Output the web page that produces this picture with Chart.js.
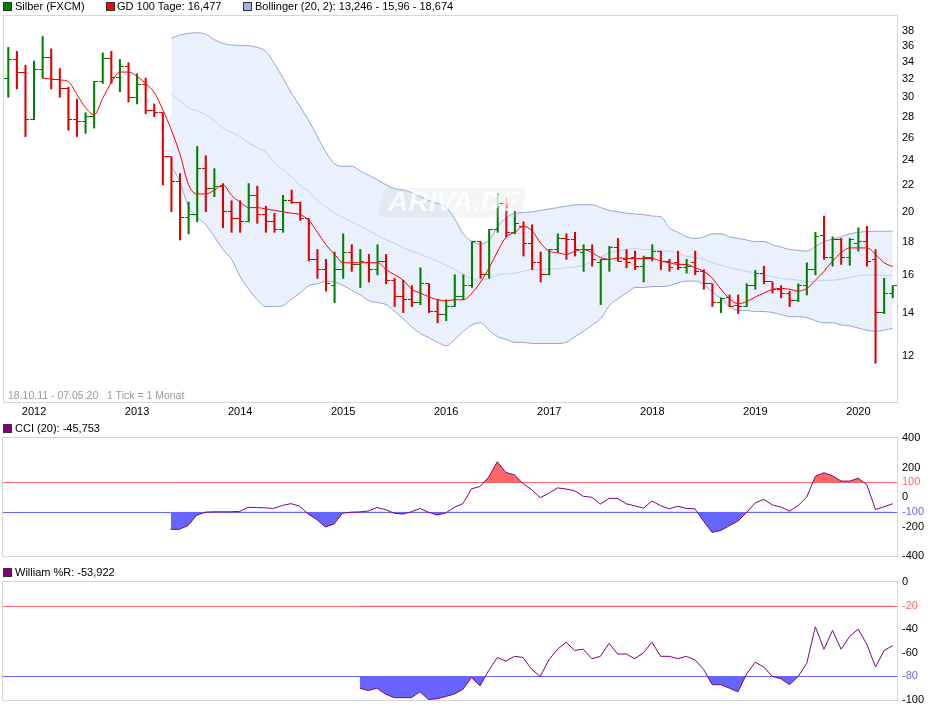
<!DOCTYPE html>
<html lang="de"><head><meta charset="utf-8"><title>Silber (FXCM)</title>
<script src="https://cdn.jsdelivr.net/npm/chart.js@4.4.1/dist/chart.umd.min.js"></script>
<style>
html,body{margin:0;padding:0;background:#fff;}
body{width:940px;height:710px;position:relative;overflow:hidden;font-family:"Liberation Sans",Arial,Helvetica,sans-serif;}
.cv{position:absolute;left:0;}
.sq{position:absolute;width:9px;height:9px;box-sizing:border-box;border:1px solid #333;}
.tx{position:absolute;font-size:11px;line-height:13px;color:#000;white-space:nowrap;}
</style></head><body>
<canvas id="mainChart" class="cv" width="940" height="416" style="top:4px;width:940px;height:416px"></canvas>
<canvas id="cciChart" class="cv" width="940" height="142" style="top:426px;width:940px;height:142px"></canvas>
<canvas id="wrChart" class="cv" width="940" height="142" style="top:570px;width:940px;height:142px"></canvas>

<div class="sq" style="left:3px;top:2px;background:#008000"></div>
<div class="tx" style="left:15px;top:0px">Silber (FXCM)</div>
<div class="sq" style="left:106px;top:2px;background:#ff0000"></div>
<div class="tx" style="left:117px;top:0px">GD 100 Tage: 16,477</div>
<div class="sq" style="left:243px;top:2px;background:#9fb3e0"></div>
<div class="tx" style="left:255px;top:0px">Bollinger (20, 2): 13,246 - 15,96 - 18,674</div>

<div style="position:absolute;left:381px;top:188px;width:143px;height:29px;background:rgba(200,204,212,0.2);border-radius:5px;transform:skewX(-14deg);"></div>
<div style="position:absolute;left:388px;top:186px;font:italic bold 28px 'Liberation Sans',Arial,sans-serif;color:rgba(255,255,255,0.75);">ARIVA.DE</div>

<div class="tx" style="left:8px;top:389px;font-size:10.5px;color:#9a9a9a">18.10.11 - 07.05.20&nbsp;&nbsp; 1 Tick = 1 Monat</div>

<div class="sq" style="left:3px;top:424px;background:#800080"></div>
<div class="tx" style="left:15px;top:422px">CCI (20): -45,753</div>
<div class="sq" style="left:3px;top:568px;background:#800080"></div>
<div class="tx" style="left:15px;top:566px">William %R: -53,922</div>

<script>
// ---------- categories (monthly bars, Oct 2011 - May 2020) ----------
const months = [
 '10.11','11.11','12.11',
 '01.12','02.12','03.12','04.12','05.12','06.12','07.12','08.12','09.12','10.12','11.12','12.12',
 '01.13','02.13','03.13','04.13','05.13','06.13','07.13','08.13','09.13','10.13','11.13','12.13',
 '01.14','02.14','03.14','04.14','05.14','06.14','07.14','08.14','09.14','10.14','11.14','12.14',
 '01.15','02.15','03.15','04.15','05.15','06.15','07.15','08.15','09.15','10.15','11.15','12.15',
 '01.16','02.16','03.16','04.16','05.16','06.16','07.16','08.16','09.16','10.16','11.16','12.16',
 '01.17','02.17','03.17','04.17','05.17','06.17','07.17','08.17','09.17','10.17','11.17','12.17',
 '01.18','02.18','03.18','04.18','05.18','06.18','07.18','08.18','09.18','10.18','11.18','12.18',
 '01.19','02.19','03.19','04.19','05.19','06.19','07.19','08.19','09.19','10.19','11.19','12.19',
 '01.20','02.20','03.20','04.20','05.20'
];

// ---------- OHLC (Silber, FXCM) ----------
const opens = [
 32.1,34.25,32.8,27.7,33.1,34.5,32.0,30.9,27.7,27.5,
 28.0,31.7,34.4,32.2,33.5,30.0,31.4,28.6,28.4,24.3,
 22.3,19.6,19.8,23.3,21.7,21.9,20.0,19.5,19.3,21.2,
 19.8,19.3,18.8,20.8,20.7,19.5,16.9,16.3,15.4,16.3,
 17.3,16.6,16.7,16.3,16.8,15.7,14.8,14.65,14.5,15.5,
 14.05,13.9,14.3,14.8,15.4,18.0,16.0,18.8,20.6,18.6,
 19.0,17.9,16.7,16.0,17.5,18.2,18.1,17.3,17.5,16.7,
 16.9,17.6,16.9,17.0,16.5,17.0,17.4,16.8,16.7,16.4,
 16.7,16.2,15.5,14.5,14.75,14.35,14.3,15.4,16.1,15.6,
 15.2,15.0,14.6,15.4,16.3,18.4,17.0,18.1,17.0,17.9,
 18.0,16.9,14.0,15.0
];
const highs = [
 35.8,35.3,33.6,34.1,37.2,35.6,33.2,31.1,29.8,28.4,
 31.7,35.1,35.3,34.3,33.9,32.6,32.1,29.3,28.4,24.3,
 22.9,20.7,25.2,24.4,23.3,22.1,20.8,20.8,22.1,21.9,
 20.4,19.9,21.2,21.6,20.7,19.5,17.5,16.9,17.35,18.5,
 17.8,17.5,17.2,17.8,17.2,15.8,15.7,15.4,16.4,15.5,
 14.65,14.65,16.0,16.0,18.0,18.0,18.8,21.3,21.0,20.1,
 19.3,19.1,17.35,17.5,18.5,18.5,18.6,17.8,17.8,16.9,
 17.7,18.2,17.5,17.4,17.1,17.8,17.4,16.9,17.4,16.9,
 17.4,16.3,15.5,14.75,14.9,14.9,15.5,16.25,16.5,15.6,
 15.4,15.1,15.5,16.7,18.6,19.7,18.3,18.2,18.2,18.9,
 19.0,17.5,15.8,15.4
];
const lows = [
 30.0,30.9,26.1,27.7,32.1,30.9,30.0,26.7,26.1,26.4,
 26.9,31.5,31.5,30.6,29.5,29.3,28.3,28.0,22.0,20.0,
 18.1,18.5,19.3,20.0,21.1,18.9,18.6,18.6,19.3,19.2,
 18.6,18.6,18.6,20.6,19.4,16.8,15.8,15.1,14.5,15.8,
 16.2,15.3,15.6,16.0,15.5,14.3,14.0,14.3,14.4,14.0,
 13.5,13.6,14.3,14.65,15.3,15.8,15.8,18.6,18.3,18.5,
 17.1,16.3,15.6,16.0,17.35,16.9,17.1,16.2,16.5,14.4,
 16.2,16.8,16.4,16.3,15.6,16.8,16.3,16.2,16.3,16.1,
 16.0,15.2,14.3,14.0,14.3,13.95,14.3,15.2,15.5,15.0,
 14.75,14.3,14.55,14.9,16.0,16.9,16.5,16.6,16.55,17.4,
 16.5,11.7,13.95,14.75
];
const closes = [
 34.25,32.8,27.7,33.1,34.5,32.0,30.9,27.7,27.5,28.0,
 31.7,34.4,32.2,33.5,30.0,31.4,28.6,28.4,24.3,22.3,
 19.6,19.8,23.3,21.7,21.9,20.0,19.5,19.3,21.2,19.8,
 19.3,18.8,20.8,20.7,19.5,16.9,16.3,15.5,16.3,17.3,
 16.6,16.8,16.3,16.8,15.7,14.8,14.65,14.5,15.5,14.05,
 13.9,14.3,14.8,15.4,18.0,16.0,18.8,20.6,18.6,19.2,
 17.9,16.7,16.0,17.5,18.2,18.1,17.5,17.5,16.9,16.9,
 17.6,16.8,16.7,16.5,17.0,17.4,16.8,16.4,16.4,16.5,
 16.2,15.5,14.5,14.7,14.3,14.3,15.4,16.1,15.6,15.2,
 15.0,14.6,15.4,16.3,18.3,17.0,18.1,17.0,18.1,18.0,
 16.8,14.0,15.0,15.4
];

// ---------- GD 100 Tage ----------
const gd100 = [
 null,null,null,null,32.1,32.0,31.9,31.7,30.3,28.9,
 28.2,29.9,31.6,32.8,32.8,32.3,31.5,30.5,28.7,26.7,
 24.5,22.0,21.3,21.3,21.6,22.0,21.2,20.7,20.3,20.3,
 20.2,20.1,20.0,19.9,19.8,19.4,18.6,17.8,17.2,16.7,
 16.7,16.7,16.7,16.7,16.3,16.0,15.7,15.2,15.0,14.8,
 14.65,14.6,14.65,14.65,15.0,15.6,16.4,17.4,18.3,18.6,
 19.0,18.7,17.9,17.4,17.3,17.2,17.4,17.5,17.3,17.0,
 16.9,17.0,16.95,16.95,16.95,16.95,16.8,16.7,16.6,16.6,
 16.4,16.2,15.8,15.2,14.7,14.45,14.55,14.8,15.0,15.2,
 15.25,15.2,15.1,15.25,15.7,16.2,16.8,17.3,17.6,17.6,
 17.6,17.2,16.7,16.477
];

// ---------- Bollinger (20, 2) ----------
const bbUpper = [
 null,null,null,null,null,null,null,null,null,null,
 null,null,null,null,null,null,null,null,null,37.0,
 37.4,37.6,37.7,37.5,36.8,36.3,36.1,36.05,36.0,35.8,
 35.3,33.8,32.1,30.4,29.0,27.6,26.1,24.7,23.7,23.5,
 23.5,23.1,22.75,22.4,22.0,21.7,21.6,21.4,21.1,20.8,
 20.6,20.3,19.5,18.5,18.0,17.85,18.1,19.0,19.6,19.9,
 19.95,20.0,20.1,20.2,20.3,20.4,20.5,20.5,20.5,20.3,
 20.1,20.0,19.9,19.85,19.8,19.7,19.65,18.9,18.6,18.3,
 18.2,18.3,18.5,18.5,18.3,18.2,18.1,18.0,18.0,17.8,
 17.65,17.5,17.45,17.4,17.7,18.0,18.15,18.3,18.5,18.6,
 18.65,18.67,18.67,18.674
];
const bbMid = [
 null,null,null,null,null,null,null,null,null,null,
 null,null,null,null,null,null,null,null,null,30.4,
 29.6,28.9,28.6,28.2,27.6,26.9,26.5,26.1,25.5,25.1,
 24.7,23.8,23.2,22.6,21.9,21.5,20.8,20.35,19.9,19.6,
 19.3,19.0,18.7,18.4,18.1,17.9,17.6,17.4,17.2,17.0,
 16.8,16.55,16.3,16.0,15.8,15.7,15.8,16.0,16.05,16.1,
 16.2,16.3,16.3,16.35,16.35,16.4,16.45,16.55,16.75,17.05,
 17.3,17.4,17.5,17.55,17.5,17.5,17.4,17.4,17.25,17.1,
 17.0,16.9,16.7,16.55,16.4,16.3,16.2,16.1,16.0,15.9,
 15.8,15.75,15.7,15.6,15.65,15.7,15.7,15.75,15.85,15.95,
 16.0,16.0,15.97,15.96
];
const bbLower = [
 null,null,null,null,null,null,null,null,null,null,
 null,null,null,null,null,null,null,null,null,23.5,
 22.2,20.35,19.6,19.1,18.3,17.5,16.9,15.9,15.2,14.65,
 14.3,14.3,14.35,14.7,15.0,15.4,15.5,15.65,15.6,15.4,
 15.15,14.9,14.6,14.5,14.4,14.05,13.7,13.3,13.0,12.8,
 12.6,12.45,12.73,13.1,13.4,13.5,13.15,12.85,12.73,12.6,
 12.6,12.55,12.55,12.55,12.55,12.6,12.85,13.1,13.4,13.7,
 14.35,14.7,15.0,15.3,15.3,15.35,15.35,15.4,15.55,15.65,
 15.65,15.45,15.05,14.7,14.3,14.1,14.1,14.05,14.05,14.0,
 13.9,13.8,13.8,13.75,13.6,13.5,13.5,13.4,13.35,13.25,
 13.15,13.1,13.15,13.246
];

// ---------- CCI (20) ----------
const cci = [
 null,null,null,null,null,null,null,null,null,null,
 null,null,null,null,null,null,null,null,null,-219,
 -219,-195,-125,-103,-100,-100,-100,-98,-70,-71,
 -74,-77,-57,-45,-62,-115,-153,-203,-183,-110,
 -103,-101,-95,-71,-85,-110,-116,-100,-78,-103,
 -122,-108,-70,-45,55,72,135,239,166,150,
 90,50,-4,25,62,54,42,5,-2,-48,
 -9,-10,-46,-60,-76,-27,-59,-80,-63,-78,
 -80,-165,-240,-227,-195,-163,-105,-40,-16,-54,
 -68,-96,-58,0,140,165,143,108,108,127,
 82,-85,-66,-45.753
];

// ---------- William %R ----------
const williamsR = [
 null,null,null,null,null,null,null,null,null,null,
 null,null,null,null,null,null,null,null,null,null,
 null,null,null,null,null,null,null,null,null,null,
 null,null,null,null,null,null,null,null,null,null,
 null,-90,-92,-90,-95,-98,-98,-98,-93,-99.5,
 -99,-97,-95,-91,-81,-88,-75,-64,-67,-63,
 -64,-74,-80,-66,-57,-51,-58,-57,-65,-63,
 -52,-61,-61,-65,-60,-51,-63,-63,-65,-63,
 -66,-74,-87,-87,-90,-93,-78,-68,-72,-80,
 -82,-87,-80,-69,-38,-57,-41,-57,-46,-40,
 -53,-72,-58,-53.922
];

// ---------- tick labels ----------
const priceTicks = [12,14,16,18,20,22,24,26,28,30,32,34,36,38];
const cciTicks = [400,200,100,0,-100,-200,-400];
const cciLevels = {upper:100, lower:-100};
const wrTicks = [0,-20,-40,-60,-80,-100];
const wrLevels = {upper:-20, lower:-80};

// ---------- styling ----------
const FONT = '"Liberation Sans", Arial, Helvetica, sans-serif';
Chart.defaults.font.family = FONT;
Chart.defaults.font.size = 11;
Chart.defaults.color = '#000';
Chart.defaults.animation = false;

const GREEN = '#008000', RED = '#e00000';
const LEVEL_RED = '#ff6666', LEVEL_BLUE = '#6666ff';
const isUp = i => closes[i] >= opens[i];

function tickImage(color, leftSide) {
  const c = document.createElement('canvas');
  c.width = 8; c.height = 1;
  const g = c.getContext('2d');
  g.fillStyle = color;
  g.fillRect(leftSide ? 0 : 4, 0, 4, 1);
  return c;
}
const tickImgs = {
  gL: tickImage(GREEN, true), gR: tickImage(GREEN, false),
  rL: tickImage(RED, true), rR: tickImage(RED, false)
};

const framePlugin = {
  id: 'panelFrame',
  beforeDraw(chart) {
    const a = chart.chartArea, ctx = chart.ctx;
    ctx.save();
    ctx.strokeStyle = '#d6d6d6';
    ctx.lineWidth = 1;
    ctx.strokeRect(Math.round(a.left) - 0.5, Math.round(a.top) - 0.5,
                   Math.round(a.right - a.left) + 1, Math.round(a.bottom - a.top) + 1);
    ctx.restore();
  },
  beforeDatasetsDraw(chart) {
    chart.ctx.imageSmoothingEnabled = false;
  }
};

// horizontal signal levels of the indicator panels, placed through the y scale
const levelPlugin = {
  id: 'levelLines',
  beforeDatasetsDraw(chart, args, opts) {
    if (!opts || !opts.levels) return;
    const y = chart.scales.y, a = chart.chartArea, ctx = chart.ctx;
    ctx.save();
    ctx.lineWidth = 1;
    [[opts.levels.upper, LEVEL_RED], [opts.levels.lower, LEVEL_BLUE]].forEach(([v, col]) => {
      const py = Math.round(y.getPixelForValue(v)) + 0.5;
      ctx.strokeStyle = col;
      ctx.beginPath();
      ctx.moveTo(Math.round(a.left), py);
      ctx.lineTo(Math.round(a.right), py);
      ctx.stroke();
    });
    ctx.restore();
  }
};

const yearLabel = idx => months[idx].startsWith('01.') ? '20' + months[idx].slice(3) : '';

// ---------- main price chart ----------
new Chart(document.getElementById('mainChart'), {
  data: {
    labels: months,
    datasets: [
      { type: 'line', label: 'Bollinger oben', data: bbUpper, borderColor: '#8fa7da', borderWidth: 1,
        pointRadius: 0, fill: '+2', backgroundColor: '#eaf0fc', cubicInterpolationMode: 'monotone', order: 10 },
      { type: 'line', label: 'Bollinger Mitte', data: bbMid, borderColor: '#bcd3f6', borderWidth: 1,
        pointRadius: 0, fill: false, cubicInterpolationMode: 'monotone', order: 9 },
      { type: 'line', label: 'Bollinger unten', data: bbLower, borderColor: '#8fa7da', borderWidth: 1,
        pointRadius: 0, fill: false, cubicInterpolationMode: 'monotone', order: 8 },
      { type: 'bar', label: 'Silber (FXCM)', data: highs.map((h, i) => [lows[i], h]),
        backgroundColor: c => isUp(c.dataIndex) ? GREEN : RED, barThickness: 1.4, borderWidth: 0,
        grouped: false, order: 5 },
      { type: 'line', label: 'Eröffnung', data: opens, showLine: false, pointRadius: 3, pointHoverRadius: 3,
        pointStyle: c => isUp(c.dataIndex) ? tickImgs.gL : tickImgs.rL, order: 4 },
      { type: 'line', label: 'Schluss', data: closes, showLine: false, pointRadius: 3, pointHoverRadius: 3,
        pointStyle: c => isUp(c.dataIndex) ? tickImgs.gR : tickImgs.rR, order: 4 },
      { type: 'line', label: 'GD 100 Tage', data: gd100, borderColor: '#ff0000', borderWidth: 1,
        pointRadius: 0, fill: false, cubicInterpolationMode: 'monotone', order: 1 }
    ]
  },
  options: {
    responsive: false, events: [],
    layout: { padding: { left: 3, top: 12, right: 0, bottom: 0 } },
    plugins: { legend: { display: false }, tooltip: { enabled: false } },
    scales: {
      x: { type: 'category', offset: true,
        grid: { display: false, drawTicks: false }, border: { display: false },
        ticks: { autoSkip: false, maxRotation: 0, minRotation: 0, padding: 3, color: '#000',
                 font: { size: 11 }, callback: (v, i) => yearLabel(i) },
        afterFit: s => { s.height = 18; } },
      y: { type: 'logarithmic', position: 'right', min: 10.2, max: 40, bounds: 'data',
        afterBuildTicks: s => { s.ticks = priceTicks.map(v => ({ value: v })); },
        afterFit: s => { s.width = 43; },
        grid: { display: false, drawTicks: false }, border: { display: false },
        ticks: { autoSkip: false, padding: 5, color: '#000', font: { size: 11 }, callback: v => String(v) } }
    }
  },
  plugins: [framePlugin]
});

// ---------- indicator panels ----------
function indicatorChart(id, values, ticks, levels, min, max) {
  const tickColor = c => (c.tick && c.tick.value === levels.upper) ? LEVEL_RED
                     : (c.tick && c.tick.value === levels.lower) ? LEVEL_BLUE : '#000';
  return new Chart(document.getElementById(id), {
    type: 'line',
    data: {
      labels: months,
      datasets: [
        { data: values, borderColor: '#800080', borderWidth: 1, pointRadius: 0,
          fill: { target: { value: levels.upper }, above: LEVEL_RED, below: 'rgba(0,0,0,0)' }, order: 1 },
        { data: values, borderColor: 'rgba(0,0,0,0)', borderWidth: 1, pointRadius: 0,
          fill: { target: { value: levels.lower }, above: 'rgba(0,0,0,0)', below: LEVEL_BLUE }, order: 2 }
      ]
    },
    options: {
      responsive: false, events: [],
      layout: { padding: { left: 3, top: 12, right: 0, bottom: 12 } },
      plugins: { legend: { display: false }, tooltip: { enabled: false }, levelLines: { levels: levels } },
      scales: {
        x: { type: 'category', offset: true, display: false },
        y: { position: 'right', min: min, max: max,
          afterBuildTicks: s => { s.ticks = ticks.map(v => ({ value: v })); },
          afterFit: s => { s.width = 43; },
          grid: { display: false, drawTicks: false }, border: { display: false },
          ticks: { autoSkip: false, padding: 5, color: tickColor, font: { size: 11 } } }
      }
    },
    plugins: [framePlugin, levelPlugin]
  });
}
indicatorChart('cciChart', cci, cciTicks, cciLevels, -400, 400);
indicatorChart('wrChart', williamsR, wrTicks, wrLevels, -100, 0);
</script>
</body></html>
